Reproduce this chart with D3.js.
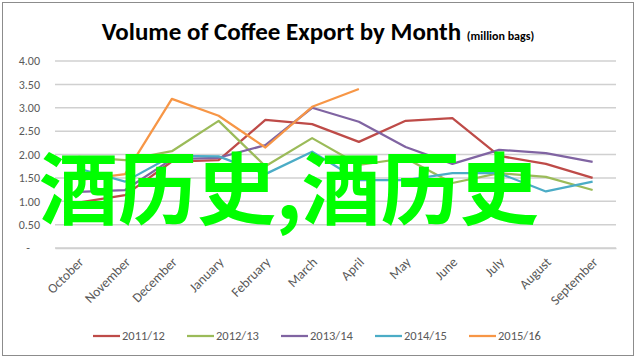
<!DOCTYPE html>
<html><head><meta charset="utf-8">
<script src="https://cdn.jsdelivr.net/npm/d3@7"></script>
<style>body{margin:0;background:#fff}svg{display:block}</style>
</head><body>
<svg id="c" width="637" height="360"></svg>
<script>
const months = ["October","November","December","January","February","March","April","May","June","July","August","September"];
const seriesNames = ["2011/12","2012/13","2013/14","2014/15","2015/16"];
const seriesColors = ["#BE4B48","#9BBB59","#8064A2","#4BACC6","#F79646"];
const s2011 = [0.97,1.13,1.85,1.88,2.74,2.65,2.27,2.72,2.78,1.97,1.80,1.50];
const s2012 = [1.95,1.88,2.07,2.72,1.75,2.35,1.78,1.92,1.39,1.60,1.52,1.24];
const s2013 = [1.20,1.24,1.90,1.93,2.20,3.00,2.70,2.16,1.80,2.10,2.03,1.84];
const s2014 = [1.70,1.42,1.97,1.96,1.58,2.06,1.45,1.45,1.60,1.60,1.21,1.42];
const s2015 = [1.45,1.58,3.19,2.83,2.15,3.02,3.40];
const yTicks = [0,0.5,1,1.5,2,2.5,3,3.5,4];
const overlayText = "酒历史,酒历史";

const allSeries = [s2011,s2012,s2013,s2014,s2015];
const svg = d3.select("#c");
const font = "Carlito, Calibri, 'Liberation Sans Narrow', 'Liberation Sans', Arial, sans-serif";

svg.append("rect").attr("x",2.5).attr("y",2.5).attr("width",631).attr("height",353)
  .attr("fill","#fff").attr("stroke","#8c8c8c").attr("stroke-width",1);

const x = d3.scaleBand().domain(months).range([55,616]);
const y = d3.scaleLinear().domain([0,4]).range([248,61]);

// gridlines
svg.append("g").selectAll("line").data(yTicks).join("line")
  .attr("x1",55).attr("x2",616).attr("y1",d=>y(d)).attr("y2",d=>y(d))
  .attr("stroke","#d0d0d0").attr("stroke-width",1.5);

// y labels
const yAxis = d3.axisLeft(y).tickValues(yTicks).tickSize(0).tickPadding(0)
  .tickFormat(d=> d===0 ? "-" : d3.format(".2f")(d));
const gy = svg.append("g").attr("transform","translate(40,0)").call(yAxis);
gy.select(".domain").remove();
gy.selectAll("text").attr("font-family",font).attr("font-size",12).attr("fill","#595959")
  .attr("dx", d=> d===0 ? -10 : 0);

// x axis
const xAxis = d3.axisBottom(x).tickSize(0).tickPadding(0);
const gx = svg.append("g").attr("transform","translate(0,248)").call(xAxis);
gx.select(".domain").attr("stroke","#d0d0d0").attr("stroke-width",1.5);
gx.selectAll("text").attr("font-family",font).attr("font-size",13.5).attr("fill","#595959")
  .attr("text-anchor","end").attr("dy",0)
  .attr("transform","translate(6,15) rotate(-45)");

// lines
const line = d3.line().x((d,i)=>x(months[i])+x.bandwidth()/2).y(d=>y(d));
svg.append("g").selectAll("path").data(allSeries).join("path")
  .attr("d",d=>line(d)).attr("fill","none")
  .attr("stroke",(d,i)=>seriesColors[i]).attr("stroke-width",2.25)
  .attr("stroke-linejoin","round");

// title
const t = svg.append("text").attr("x",318).attr("y",40).attr("text-anchor","middle")
  .attr("font-family",font).attr("fill","#000");
t.append("tspan").attr("font-size",25).attr("font-weight","bold").text("Volume of Coffee Export by Month ");
t.append("tspan").attr("font-size",12).attr("font-weight","bold").text("(million bags)");

// legend
const lg = svg.append("g").selectAll("g").data(seriesNames).join("g")
  .attr("transform",(d,i)=>`translate(${93+i*94},336)`);
lg.append("line").attr("x1",0).attr("x2",27).attr("y1",0).attr("y2",0)
  .attr("stroke",(d,i)=>seriesColors[i]).attr("stroke-width",2.25);
lg.append("text").attr("x",29).attr("y",4).attr("font-family",font).attr("font-size",12.5)
  .attr("fill","#595959").text(d=>d);

// overlay
svg.append("text").attr("x",39).attr("y",219)
  .attr("font-family","'Noto Sans CJK SC', sans-serif").attr("font-weight","bold")
  .attr("font-size",79).attr("fill","#00FF00").text(overlayText);
</script>
</body></html>
